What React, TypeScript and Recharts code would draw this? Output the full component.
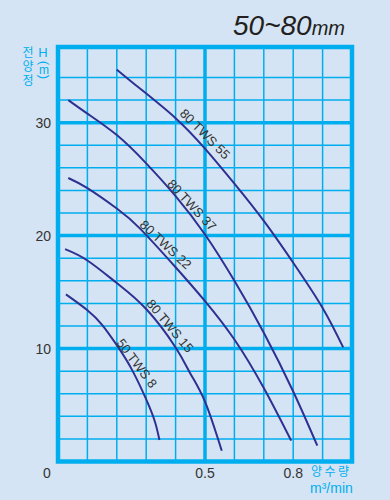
import {
  LineChart,
  Line,
  XAxis,
  YAxis,
  ReferenceLine,
  ReferenceArea,
  ReferenceDot,
} from "recharts";

// 색상 / 폰트
const CYAN = "#00aeef";
const NAVY = "#2e3192";
const BG = "#d5e4f4";
const INK = "#333333";
const SANS = '"Liberation Sans", Arial, sans-serif';
const KOR = '"Noto Sans CJK KR", "Noto Sans", sans-serif';

// 양수량 (m³/min) → 전양정 H (m), 곡선별
const flowTws55 = [0.2, 0.28, 0.4, 0.5, 0.6, 0.7, 0.8, 0.9, 0.97];
const headTws55 = [34.7, 33.0, 30.4, 27.7, 24.6, 21.3, 17.6, 13.6, 10.1];

const flowTws37 = [0.035, 0.1, 0.2, 0.3, 0.4, 0.5, 0.6, 0.7, 0.8, 0.882];
const headTws37 = [32.0, 30.8, 28.9, 26.4, 23.5, 20.1, 16.0, 11.4, 6.2, 1.4];

const flowTws22 = [0.035, 0.1, 0.2, 0.28, 0.4, 0.5, 0.6, 0.7, 0.793];
const headTws22 = [25.1, 24.2, 22.4, 20.6, 17.2, 14.2, 10.8, 6.5, 1.85];

const flowTws15 = [0.024, 0.1, 0.2, 0.3, 0.4, 0.45, 0.5, 0.557];
const headTws15 = [18.8, 17.8, 15.8, 13.5, 10.1, 7.8, 5.3, 0.95];

const flowTws8 = [0.027, 0.1, 0.15, 0.2, 0.25, 0.3, 0.33, 0.345];
const headTws8 = [14.8, 13.4, 12.1, 10.3, 8.2, 5.5, 3.5, 1.9];

const curveNames = ["80 TWS 55", "80 TWS 37", "80 TWS 22", "80 TWS 15", "50 TWS 8"];

// 눈금
const flowTicks = [0, 0.5, 0.8];
const headTicks = [10, 20, 30];
const flowGrid = [0.1, 0.2, 0.3, 0.4, 0.5, 0.6, 0.7, 0.8, 0.9];
const headGrid = [2, 4, 6, 8, 10, 12, 14, 16, 18, 20, 22, 24, 26, 28, 30, 32, 34];
const flowMajor = [0.5];
const headMajor = [10, 20, 30];
const FLOW_MAX = 1.0;
const HEAD_MAX = 36.7;

// 곡선 이름표 위치 (데이터 좌표) 와 기울기
const labelFlow = [0.5, 0.455, 0.366, 0.381, 0.268];
const labelHead = [29.0, 22.7, 19.2, 12.0, 8.7];
const labelAngle = [45, 47, 43, 50, 53];

const seriesFlow = [flowTws55, flowTws37, flowTws22, flowTws15, flowTws8];
const seriesHead = [headTws55, headTws37, headTws22, headTws15, headTws8];

const curves = curveNames.map((name, i) => ({
  name,
  data: seriesFlow[i].map((f, j) => ({ flow: f, head: seriesHead[i][j] })),
}));

// x축 눈금: 원점 "0"은 모서리 쪽으로 살짝 왼쪽
const FlowTick = (props: any) => {
  const { x, y, payload } = props;
  const dx = payload.value === 0 ? -11 : 0;
  return (
    <text
      x={x + dx}
      y={y + 16}
      textAnchor="middle"
      fill={INK}
      fontSize={14}
      fontFamily={SANS}
    >
      {payload.value}
    </text>
  );
};

export default function App() {
  return (
    <div
      style={{
        position: "absolute",
        left: 0,
        top: 0,
        width: 390,
        height: 500,
        background: BG,
        overflow: "hidden",
      }}
    >
      <LineChart
        width={390}
        height={500}
        margin={{ top: 47, right: 38, bottom: 0, left: 0 }}
      >
        <XAxis
          dataKey="flow"
          type="number"
          domain={[0, FLOW_MAX]}
          ticks={flowTicks}
          interval={0}
          allowDataOverflow
          axisLine={false}
          tickLine={false}
          tickSize={0}
          tickMargin={0}
          height={38.5}
          tick={<FlowTick />}
        />
        <YAxis
          type="number"
          domain={[0, HEAD_MAX]}
          ticks={headTicks}
          interval={0}
          allowDataOverflow
          axisLine={false}
          tickLine={false}
          tickSize={0}
          tickMargin={7}
          width={58}
          tick={{ fill: INK, fontSize: 14, fontFamily: SANS }}
        />

        {/* 모눈 */}
        {flowGrid.map((v) => (
          <ReferenceLine
            key={`fx-${v}`}
            x={v}
            stroke={CYAN}
            strokeWidth={flowMajor.includes(v) ? 3.5 : 1.5}
          />
        ))}
        {headGrid.map((v) => (
          <ReferenceLine
            key={`hy-${v}`}
            y={v}
            stroke={CYAN}
            strokeWidth={headMajor.includes(v) ? 3.5 : 1.5}
          />
        ))}
        <ReferenceArea
          x1={0}
          x2={FLOW_MAX}
          y1={0}
          y2={HEAD_MAX}
          fill="none"
          fillOpacity={0}
          stroke={CYAN}
          strokeWidth={4.5}
          strokeOpacity={1}
        />

        {/* 성능 곡선 */}
        {curves.map((c) => (
          <Line
            key={c.name}
            data={c.data}
            dataKey="head"
            type="natural"
            stroke={NAVY}
            strokeWidth={2}
            dot={false}
            activeDot={false}
            isAnimationActive={false}
          />
        ))}

        {/* 곡선 이름 */}
        {curveNames.map((name, i) => (
          <ReferenceDot
            key={`lbl-${name}`}
            x={labelFlow[i]}
            y={labelHead[i]}
            r={0}
            ifOverflow="visible"
            shape={(p: any) => (
              <text
                x={p.cx}
                y={p.cy}
                transform={`rotate(${labelAngle[i]} ${p.cx} ${p.cy})`}
                textAnchor="middle"
                dominantBaseline="central"
                fill={INK}
                fontSize={13}
                fontFamily={SANS}
              >
                {name}
              </text>
            )}
          />
        ))}
      </LineChart>

      {/* 제목과 축 이름 */}
      <svg
        width={390}
        height={500}
        style={{ position: "absolute", left: 0, top: 0, pointerEvents: "none" }}
      >
        <text x={233} y={35} fontFamily={SANS} fontStyle="italic" fontSize={28} fill="#231f20">
          50~80
          <tspan fontSize={20}>mm</tspan>
        </text>

        {/* 전양정 : 세로쓰기 */}
        <text
          x={28}
          y={46}
          fill={CYAN}
          fontFamily={KOR}
          fontSize={12}
          letterSpacing={2}
          style={{ writingMode: "vertical-rl" }}
        >
          전양정
        </text>
        <g fill={CYAN} fontFamily={SANS} fontSize={13} textAnchor="middle">
          <text x={43} y={57}>H</text>
          <text x={44} y={63} transform="rotate(90 44 63)" dominantBaseline="central">(</text>
          <text x={44} y={74} fontSize={12}>m</text>
          <text x={44} y={77} transform="rotate(90 44 77)" dominantBaseline="central">)</text>
        </g>

        <text x={311} y={476} fill={CYAN} fontFamily={KOR} fontSize={12} letterSpacing={2.5}>
          양수량
        </text>
        <text x={310} y={493} fill={CYAN} fontFamily={SANS} fontSize={14}>
          m³/min
        </text>
      </svg>
    </div>
  );
}
